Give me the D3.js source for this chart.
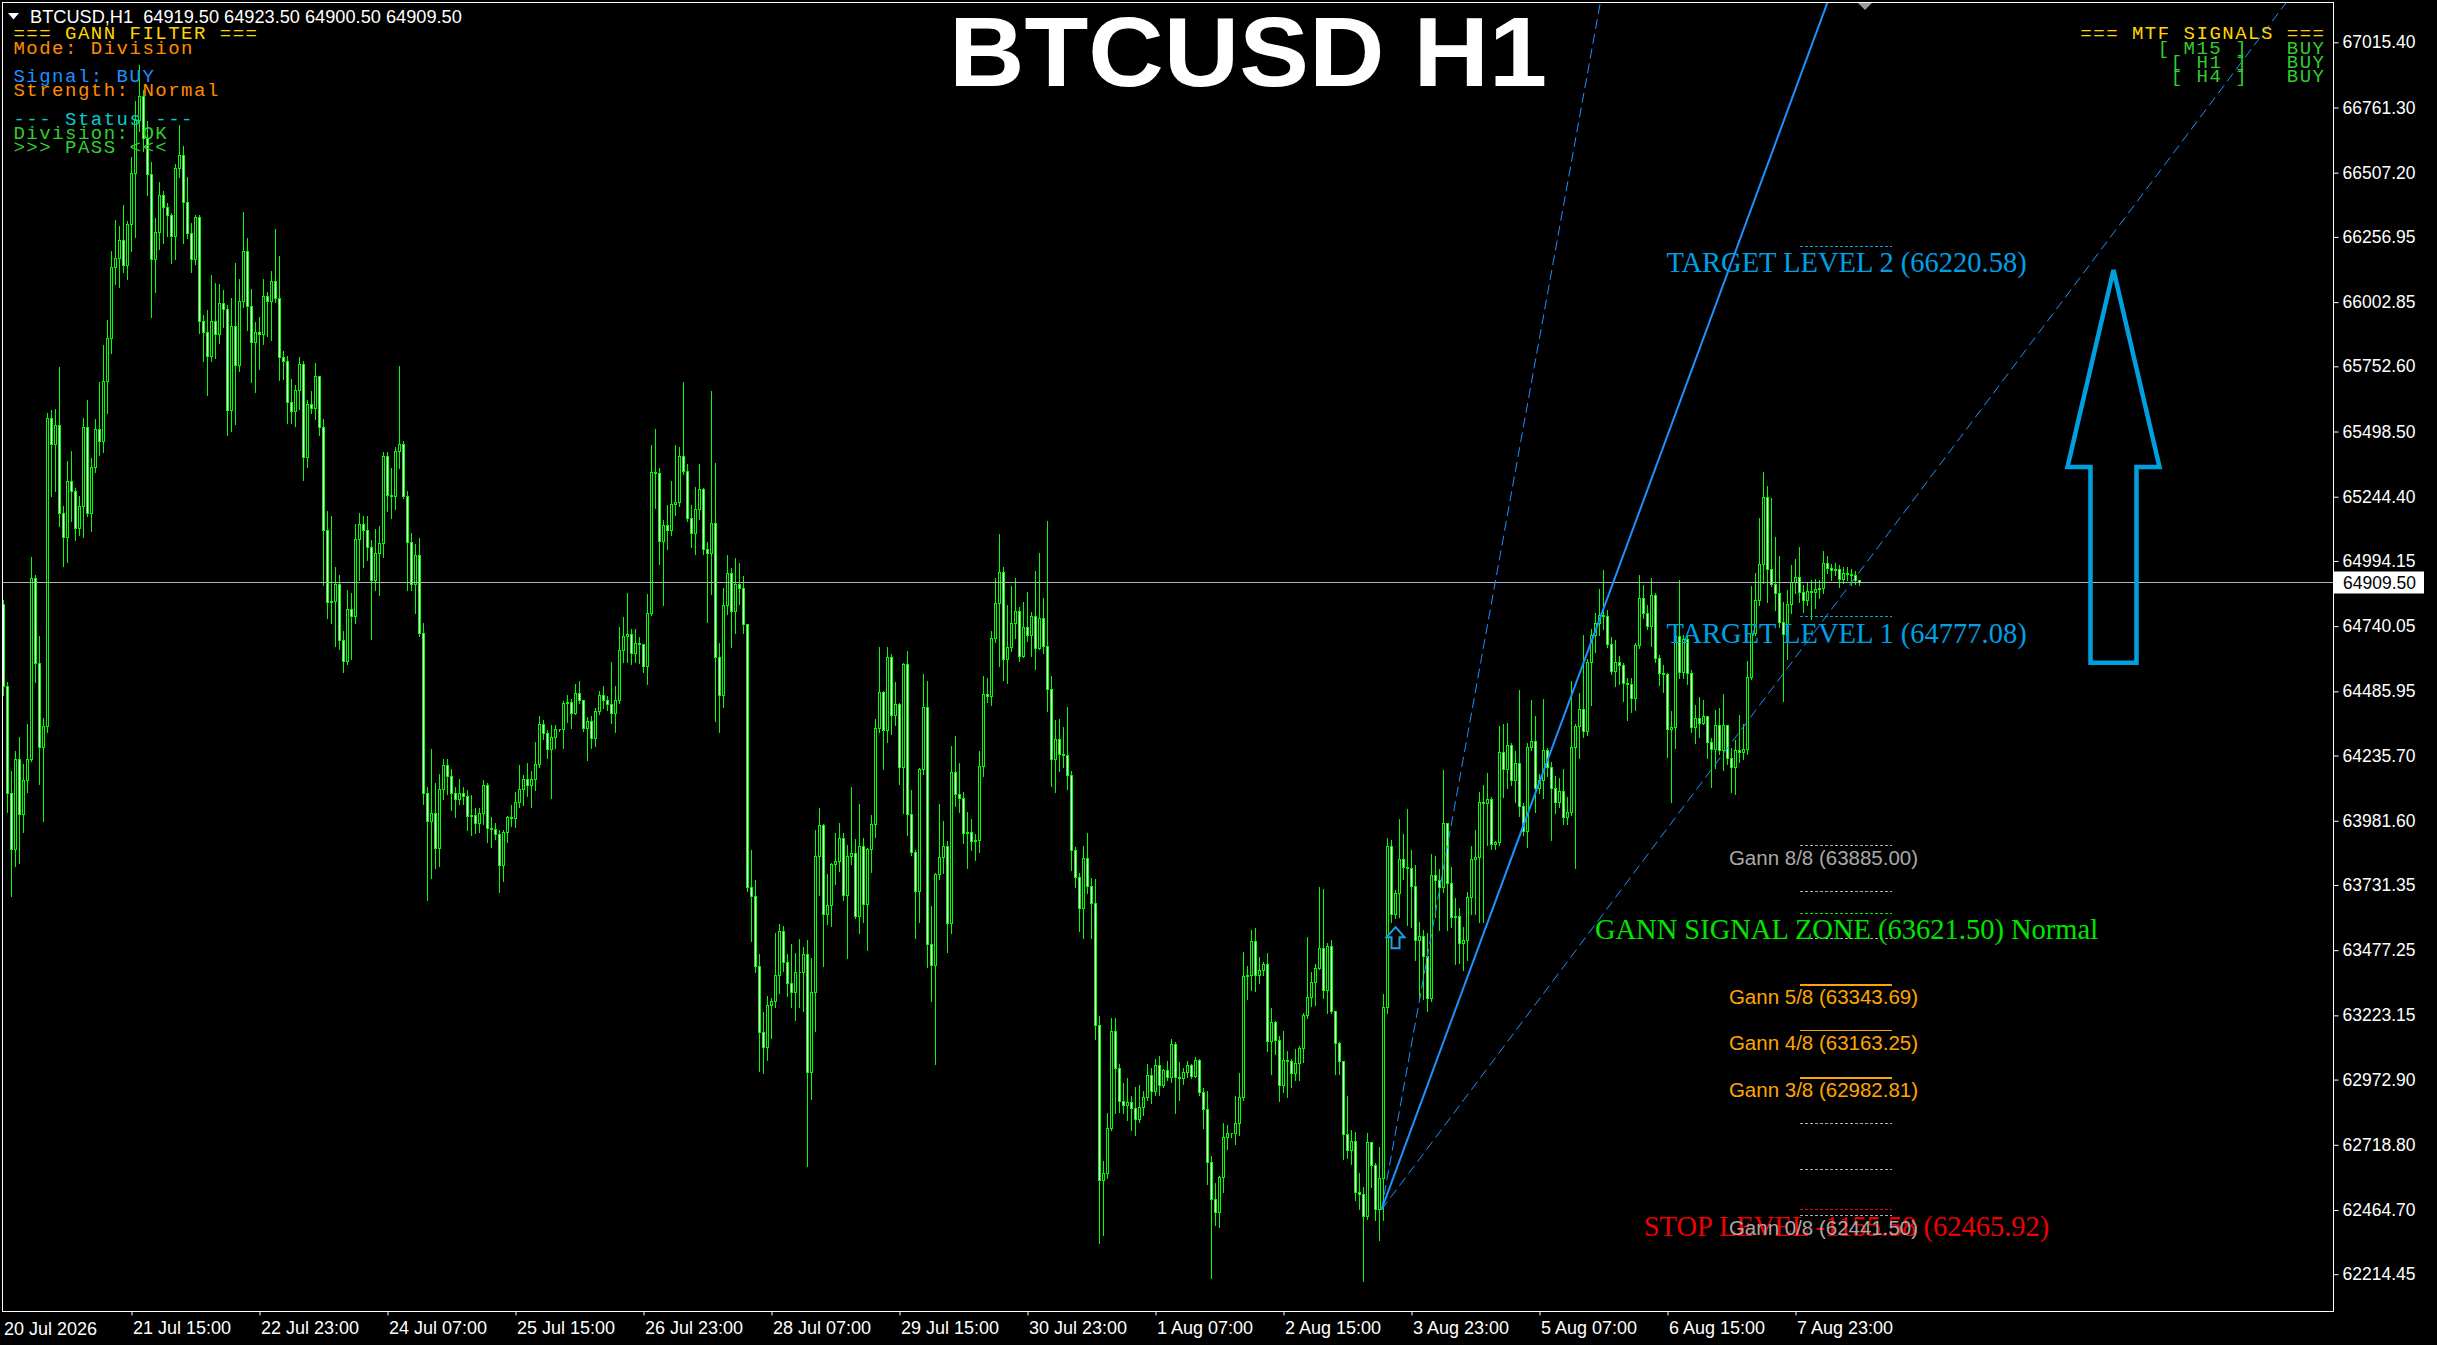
<!DOCTYPE html>
<meta charset="utf-8" />
<script src="https://d3js.org/d3.v7.min.js"></script>
<body style="margin:0;background:#000;overflow:hidden">
<svg id="chart" width="2437" height="1345" style="display:block;background:#000"></svg>
<script>
/* ── DATA ── H1 bars, first bar 20 Jul 2026 07:00, open of bar i = close of bar i-1 */
const firstBar  = "2026-07-20T07:00";
const firstOpen = 64826;
const closes = [
 64504,64087,63868,64220,64007,64140,64220,64926,64594,64266,
 64349,65548,65449,65522,65180,65087,65304,65264,65121,65206,
 65514,65180,65359,65508,65459,65693,65862,66138,66174,66244,
 66144,66307,66506,66711,66806,66641,66502,66170,66274,66417,
 66373,66341,66258,66522,66576,66393,66270,66170,66333,65926,
 65886,65790,65926,65876,65999,65975,65582,65906,65757,66005,
 66200,65985,65846,65886,65876,66025,66005,66085,66015,65787,
 65773,65612,65578,65657,65761,65399,65602,65588,65713,65514,
 65111,64832,64838,64902,64683,64604,64806,64779,65077,65137,
 65111,65045,64918,65025,65061,65403,65250,65244,65419,65449,
 65244,65065,64902,65017,64713,64087,63977,64011,63872,64103,
 64196,64156,64087,64063,64087,64077,63998,64001,63972,64010,
 64120,63951,63946,63928,63807,63937,63996,63989,64054,64102,
 64142,64120,64142,64202,64355,64323,64259,64306,64337,64337,
 64438,64442,64398,64477,64449,64341,64367,64302,64407,64468,
 64449,64435,64398,64450,64647,64699,64706,64633,64671,64668,
 64584,64790,65338,65336,65068,65134,65112,65216,65221,65402,
 65343,65159,65103,65195,65273,65039,65025,65141,64616,64468,
 64821,64946,64798,64903,64885,64746,63720,63685,63415,63158,
 63098,63262,63276,63377,63551,63429,63349,63314,63389,63392,
 63459,63000,63314,63841,63963,63615,63650,63812,63824,63911,
 63690,63841,63854,63610,63881,63655,63871,63968,64341,64480,
 64334,64616,64393,64433,64189,64590,64007,63859,63707,64181,
 64424,63499,63419,63771,63840,63880,63582,64168,64083,64069,
 63930,63936,63900,63904,64194,64472,64466,64691,64830,64950,
 64612,64655,64751,64798,64620,64735,64705,64778,64651,64771,
 64659,64492,64222,64297,64238,64234,64158,63864,63761,63641,
 63836,63725,63661,63184,62578,62608,62783,63160,63015,62886,
 62870,62882,62862,62816,62866,62902,62989,62926,63029,62950,
 63009,62981,63109,62981,62977,63001,63029,62985,63049,62922,
 62856,62651,62504,62453,62592,62747,62763,62761,62802,62902,
 63373,63379,63510,63379,63399,63423,63121,63194,63125,62950,
 63049,63045,62995,63035,63095,63224,63293,63353,63407,63482,
 63319,63492,63240,63115,63045,62757,62697,62731,62532,62524,
 62439,62727,62637,62468,62588,63254,63880,63615,63699,63832,
 63800,63796,63726,63515,63530,63452,63289,63769,63748,63720,
 63969,63737,63606,63610,63505,63515,63684,63832,63838,64054,
 64050,64064,63889,63895,64248,64181,64276,64138,64206,64037,
 63938,64269,64290,64107,64138,64254,64191,64107,64054,64096,
 63995,64012,64269,64350,64417,64328,64599,64704,64751,64782,
 64776,64670,64565,64599,64586,64518,64514,64459,64666,64846,
 64789,64740,64861,64613,64556,64550,64339,64345,64698,64561,
 64687,64556,64345,64381,64360,64387,64286,64261,64354,64254,
 64354,64223,64191,64254,64248,64261,64540,64713,64839,64979,
 65241,64962,64903,64867,64755,64709,64825,64909,64930,64873,
 64839,64877,64873,64882,64888,64983,64966,64958,64962,64920,
 64945,64941,64937,64919.5,64909.5
];
const highs = [
 64842,64524,64176,64256,64310,64206,64361,65011,64942,64703,
 64385,65574,65584,65588,65751,65210,65385,65423,65280,65250,
 65554,65622,65399,65548,65693,65836,65936,66204,66323,66303,
 66383,66319,66572,66790,66930,66830,66711,66552,66333,66472,
 66437,66393,66353,66542,66695,66612,66492,66313,66343,66343,
 65956,65975,66111,66079,66075,66051,65995,66019,66158,66095,
 66357,66254,66055,65926,65946,66095,66045,66125,66288,66184,
 65816,65796,65707,65681,65792,65776,65622,65657,65767,65717,
 65548,65190,65170,64971,64942,64723,64882,64872,65141,65184,
 65170,65170,65077,65121,65131,65419,65419,65359,65439,65757,
 65463,65270,65105,65061,65085,64753,64117,64262,64131,64166,
 64226,64226,64186,64117,64146,64117,64102,64085,64033,64033,
 64142,64132,63998,63975,63946,63946,64003,64045,64097,64202,
 64160,64207,64177,64289,64390,64376,64337,64355,64358,64341,
 64450,64473,64459,64515,64529,64454,64386,64390,64424,64490,
 64508,64471,64602,64508,64738,64776,64871,64729,64729,64699,
 64642,64868,65447,65512,65360,65155,65216,65308,65447,65442,
 65695,65373,65216,65286,65374,65280,65068,65660,65376,64677,
 64891,65019,64967,65007,64990,64938,64751,63871,63754,63464,
 63238,63302,63293,63546,63580,63572,63464,63502,63467,63523,
 63493,63520,63450,63946,64033,63972,63777,63819,63937,63975,
 63937,63888,64115,63911,64050,63916,63876,64007,64381,64659,
 64490,64659,64633,64525,64442,64598,64647,64102,63871,64189,
 64555,64529,63651,63781,64049,63983,63904,64274,64313,64208,
 64095,64019,63989,63930,64254,64546,64540,64725,64930,65103,
 64973,64824,64898,64930,64818,64838,64874,64798,64957,65029,
 64850,65150,64546,64377,64381,64347,64427,64178,63880,63781,
 63884,63936,63761,63757,63224,62657,62846,63214,63214,63035,
 62961,62981,62910,62946,62955,62930,63035,63021,63055,63065,
 63015,63049,63134,63121,63045,63021,63049,63035,63061,63055,
 62942,62930,62677,62572,62598,62806,62797,62767,62910,63001,
 63472,63419,63558,63566,63452,63433,63467,63254,63204,63144,
 63164,63085,63055,63095,63105,63234,63532,63393,63427,63725,
 63717,63506,63518,63244,63121,63049,62910,62777,62771,62612,
 62558,62767,62731,62651,62711,63308,63916,63910,63712,63990,
 63931,64028,63868,63811,63589,63557,63547,63853,63847,63796,
 64180,63974,63805,63684,63642,63568,63705,63885,63948,64096,
 64121,64170,64075,63906,64354,64360,64366,64286,64254,64493,
 64054,64286,64455,64392,64164,64459,64269,64212,64159,64149,
 64185,64075,64529,64360,64480,64709,64613,64730,64793,64888,
 64962,64804,64698,64687,64624,64599,64540,64540,64677,64941,
 64903,64825,64930,64873,64628,64592,64561,64413,64719,64920,
 64709,64709,64571,64434,64466,64455,64381,64307,64417,64423,
 64476,64349,64269,64297,64396,64360,64607,64899,64951,65163,
 65342,65289,65241,65089,65015,64835,64882,64979,65004,65051,
 64903,64909,64920,64924,64920,65036,65015,64983,64987,64979,
 64972,64972,64966,64958,64923.5
];
const lows = [
 64475,64017,63689,63809,63818,63938,64097,64216,64524,64127,
 63983,64329,65250,65270,65131,64977,64991,65150,65077,65097,
 65091,65170,65111,65343,65409,65419,65574,65806,66075,66065,
 66124,66095,66204,66258,66671,66592,66423,65946,66045,66210,
 66234,66264,66158,66174,66492,66234,66254,66124,66154,65886,
 65777,65641,65777,65787,65846,65906,65488,65502,65528,65737,
 65985,65896,65693,65653,65743,65840,65872,65856,66005,65701,
 65707,65534,65534,65522,65588,65310,65363,65574,65548,65488,
 64902,64773,64753,64663,64653,64564,64594,64614,64753,64922,
 64971,65001,64693,64882,64862,65011,65190,65164,65200,65359,
 65240,64882,64882,64793,64703,64047,63673,63759,63799,63809,
 64067,64087,64027,63997,64047,64047,63946,63928,63937,63941,
 63972,63902,63881,63911,63707,63749,63902,63963,63958,64038,
 64045,64080,64038,64102,64195,64303,64229,64073,64268,64334,
 64268,64369,64346,64410,64442,64334,64219,64268,64276,64398,
 64424,64416,64363,64329,64442,64602,64602,64595,64602,64598,
 64564,64515,64786,65204,64985,64824,65042,65099,65176,65211,
 65336,65152,65051,65025,65159,65025,64758,64868,64372,64329,
 64428,64790,64659,64717,64828,64717,63711,63516,63394,63010,
 63000,63050,63137,63258,63311,63398,63302,63258,63206,63258,
 63241,62640,62900,63163,63694,63419,63580,63575,63737,63789,
 63676,63450,63815,63603,63546,63589,63481,63784,63920,64329,
 64184,64289,64323,64358,64125,64015,63928,63850,63528,63589,
 64167,63415,63280,63035,63757,63781,63472,63546,64043,64019,
 63896,63800,63870,63830,63860,64158,64447,64433,64679,64586,
 64532,64520,64645,64695,64606,64620,64685,64625,64576,64665,
 64639,64410,64119,64095,64178,64194,64109,63790,63725,63552,
 63526,63701,63526,63134,62339,62369,62592,62777,62846,62850,
 62846,62816,62777,62757,62810,62836,62896,62882,62916,62916,
 62946,62975,62966,62846,62896,62956,62985,62981,62985,62916,
 62786,62568,62200,62409,62399,62538,62703,62751,62723,62757,
 62896,63287,63323,63319,63353,63383,63085,62995,63075,62890,
 62926,62906,62946,62975,62975,63045,63214,63260,63264,63407,
 63293,63234,63234,62995,62995,62667,62671,62647,62504,62469,
 62190,62433,62558,62429,62349,62429,63234,63589,63606,63610,
 63758,63579,63568,63441,63293,63289,63241,63283,63610,63557,
 63705,63557,63568,63424,63431,63403,63441,63621,63621,63589,
 63589,63889,63874,63874,63889,64075,64113,64121,64058,64001,
 63927,63881,64261,64016,64092,64071,64159,63910,64012,64037,
 63969,63969,64007,63800,64227,64311,64318,64434,64641,64709,
 64730,64662,64556,64508,64518,64451,64375,64409,64417,64656,
 64772,64730,64666,64603,64514,64487,64233,64058,64269,64540,
 64540,64518,64328,64286,64311,64360,64227,64117,64191,64244,
 64180,64206,64096,64086,64212,64223,64244,64535,64708,64825,
 64909,64835,64899,64804,64740,64451,64613,64793,64873,64835,
 64797,64825,64768,64814,64852,64873,64951,64920,64941,64894,
 64909,64920,64903,64905,64900.5
];

const priceTicks = [67015.40,66761.30,66507.20,66256.95,66002.85,65752.60,65498.50,65244.40,64994.15,
  64740.05,64485.95,64235.70,63981.60,63731.35,63477.25,63223.15,62972.90,62718.80,62464.70,62214.45];
const timeTicks = ["2026-07-21T15:00","2026-07-22T23:00","2026-07-24T07:00","2026-07-25T15:00",
  "2026-07-26T23:00","2026-07-28T07:00","2026-07-29T15:00","2026-07-30T23:00","2026-08-01T07:00",
  "2026-08-02T15:00","2026-08-03T23:00","2026-08-05T07:00","2026-08-06T15:00","2026-08-07T23:00"];
const lastPrice = 64909.50;

const gannNames  = ["8/8","7/8","6/8","5/8","4/8","3/8","2/8","1/8","0/8"];
const gannPrices = [63885.00,63704.56,63524.13,63343.69,63163.25,62982.81,62802.38,62621.94,62441.50];
const signalZone = 63621.50;
const stopLevel  = 62465.92, stopDist = -1155.58;
const targets    = [64777.08, 66220.58];
const fanOrigin  = {bar: 344.5, price: 62465.92};
const fanSlopes  = [86, 42.2, 20.8];            // price per bar

const filterLines = ["=== GANN FILTER ===","Mode: Division","","Signal: BUY","Strength: Normal","",
  "--- Status ---","Division: OK",">>> PASS <<<"];
const mtfLines = ["=== MTF SIGNALS ===","[ M15 ]   BUY","[ H1 ]   BUY","[ H4 ]   BUY"];

/* ── LAYOUT ── */
const plot = {l:2, r:2334, t:2, b:1312};
const lvlFrom = 449, lvlTo = 472;               // bar span of level stubs
const svg = d3.select("#chart");
const t0 = d3.utcParse("%Y-%m-%dT%H:%M")(firstBar);
const barTime = i => new Date(+t0 + i*3600e3);
const x = d3.scaleUtc().domain([t0, barTime(464)]).range([3.5, 3.5 + 4*464]);
const y = d3.scaleLinear().domain([62214.45, 67015.40]).range([1274.2, 42.3]);
const snap = v => Math.round(v - 0.5) + 0.5;
const bx = i => snap(x(barTime(i)));
const by = p => snap(y(p));

svg.append("defs").append("clipPath").attr("id","clip")
  .append("rect").attr("x",plot.l).attr("y",plot.t).attr("width",plot.r-plot.l).attr("height",plot.b-plot.t);

/* candles */
const bars = closes.map((c,i)=>({i, o: i ? closes[i-1] : firstOpen, h: highs[i], l: lows[i], c}));
const cg = svg.append("g").attr("clip-path","url(#clip)").attr("shape-rendering","crispEdges");
cg.selectAll("line.wick").data(bars).join("line").attr("class","wick")
  .attr("x1",d=>bx(d.i)).attr("x2",d=>bx(d.i))
  .attr("y1",d=>by(Math.max(d.h,d.o,d.c))).attr("y2",d=>by(Math.min(d.l,d.o,d.c)) + 1)
  .attr("stroke","#00FF00").attr("stroke-width",1);
cg.selectAll("path.body").data(bars).join("path").attr("class","body")
  .attr("d",d=>{ const cx=bx(d.i), a=by(Math.max(d.o,d.c)), b=by(Math.min(d.o,d.c));
                 return `M${cx-1},${a}H${cx+1}V${b}H${cx-1}Z`; })
  .attr("fill",d=>d.c>=d.o ? "#000" : "#fff")
  .attr("stroke","#00FF00").attr("stroke-width",1);

/* bid line */
svg.append("line").attr("x1",plot.l).attr("x2",plot.r).attr("y1",by(lastPrice)).attr("y2",by(lastPrice))
  .attr("stroke","#B4B4B4").attr("stroke-width",1).attr("shape-rendering","crispEdges");

/* gann fan */
const fg = svg.append("g").attr("clip-path","url(#clip)");
fanSlopes.forEach((s,k)=>{
  const b1 = fanOrigin.bar + 400;
  fg.append("line")
    .attr("x1",x(barTime(fanOrigin.bar))).attr("y1",y(fanOrigin.price))
    .attr("x2",x(barTime(b1))).attr("y2",y(fanOrigin.price + s*400))
    .attr("stroke","#1E90FF").attr("stroke-width",k===1?2:1)
    .attr("stroke-dasharray",k===1?null:"10,5");
});

/* level stubs + labels */
const lx0 = bx(lvlFrom), lx1 = bx(lvlTo), lxc = (lx0+lx1)/2;
const lg = svg.append("g");
function stub(p, color, dash, w){
  lg.append("line").attr("x1",lx0).attr("x2",lx1).attr("y1",by(p)).attr("y2",by(p))
    .attr("stroke",color).attr("stroke-width",w||1).attr("stroke-dasharray",dash)
    .attr("shape-rendering","crispEdges");
}
const serif = (txt, p, color) => lg.append("text").attr("x",lxc+1).attr("y",y(p)+26)
  .attr("text-anchor","middle").attr("fill",color)
  .style("font","28.5px 'Liberation Serif', serif").style("white-space","pre").text(txt);

const gannStyle = {"8/8":"gray","7/8":"gray","6/8":"gray","5/8":"o2","4/8":"o1","3/8":"o2","2/8":"gray","1/8":"gray","0/8":"gray"};
const gannLabelled = new Set(["8/8","5/8","4/8","3/8","0/8"]);

targets.forEach((p,k)=>{ stub(p,"#00A0E4","3,2"); });
gannNames.forEach((n,k)=>{
  const st = gannStyle[n];
  if (st==="gray") stub(gannPrices[k],"#A9A9A9","3,2");
  else stub(gannPrices[k],"#FFA500",null, st==="o2"?2:1);
});
stub(signalZone,"#00E600","3,2");
stub(stopLevel,"#F00000","3,2");

targets.forEach((p,k)=> serif(`TARGET LEVEL ${k+1} (${p.toFixed(2)})`, p, "#00A0E4"));
serif(`GANN SIGNAL ZONE (${signalZone.toFixed(2)}) Normal`, signalZone, "#00E600");
serif(`STOP LEVEL ${stopDist.toFixed(2)} (${stopLevel.toFixed(2)})`, stopLevel, "#F00000");
gannNames.forEach((n,k)=>{
  if (!gannLabelled.has(n)) return;
  const col = gannStyle[n]==="gray" ? "#A9A9A9" : "#FFA500";
  lg.append("text").attr("x",lxc-22).attr("y",y(gannPrices[k])+19.5)
    .attr("text-anchor","middle").attr("fill",col)
    .style("font","20.5px 'Liberation Sans', Arial, sans-serif")
    .text(`Gann ${n} (${gannPrices[k].toFixed(2)})`);
});

/* small signal arrow at 6/8 */
{
  const cx = x(barTime(348)), cy = y(gannPrices[2]);
  svg.append("path")
    .attr("d",`M${cx},${cy-11}L${cx+9},${cy-1}H${cx+4}V${cy+10}H${cx-4}V${cy-1}H${cx-9}Z`)
    .attr("fill","none").attr("stroke","#1EA0E8").attr("stroke-width",2);
}

/* big arrow */
{
  const cx = x(barTime(527.5)), tip = y(66128), head = y(65360), bot = y(64597);
  svg.append("path")
    .attr("d",`M${cx},${tip}L${cx+46},${head}H${cx+23}V${bot}H${cx-23}V${head}H${cx-46}Z`)
    .attr("fill","none").attr("stroke","#00A0E0").attr("stroke-width",4.5).attr("stroke-linejoin","miter");
}

/* frame */
svg.append("rect").attr("x",plot.l+0.5).attr("y",plot.t+0.5)
  .attr("width",plot.r-plot.l-1).attr("height",plot.b-plot.t-1)
  .attr("fill","none").attr("stroke","#fff").attr("shape-rendering","crispEdges");

/* axes */
svg.append("g").attr("transform",`translate(${plot.r-0.5},0)`)
  .call(d3.axisRight(y).tickValues(priceTicks).tickSize(5).tickPadding(4).tickFormat(d3.format(".2f")))
  .call(g=>g.select(".domain").remove())
  .call(g=>g.selectAll("line").attr("stroke","#fff"))
  .call(g=>g.selectAll("text").attr("fill","#fff").style("font","17.5px 'Liberation Sans', Arial, sans-serif"));

const tf = d3.utcFormat("%-d %b %H:%M");
svg.append("g").attr("transform",`translate(0,${plot.b-0.5})`)
  .call(d3.axisBottom(x).tickValues(timeTicks.map(d=>d3.utcParse("%Y-%m-%dT%H:%M")(d)))
        .tickSize(4).tickPadding(6).tickFormat(tf))
  .call(g=>g.select(".domain").remove())
  .call(g=>g.selectAll("line").attr("stroke","#fff"))
  .call(g=>g.selectAll("text").attr("fill","#fff").attr("text-anchor","start").attr("dx","1")
            .style("font","18px 'Liberation Sans', Arial, sans-serif"));
svg.append("text").attr("x",4).attr("y",1335).attr("fill","#fff")
  .style("font","18px 'Liberation Sans', Arial, sans-serif").text(d3.utcFormat("%-d %b %Y")(t0));

/* bid label */
svg.append("rect").attr("x",plot.r).attr("y",by(lastPrice)-11).attr("width",90).attr("height",22).attr("fill","#fff");
svg.append("text").attr("x",plot.r+9).attr("y",y(lastPrice)).attr("dy","0.35em").attr("fill","#000")
  .style("font","17.5px 'Liberation Sans', Arial, sans-serif").text(lastPrice.toFixed(2));

/* chart-shift marker */
svg.append("path").attr("d","M1858,3L1872,3L1865,10Z").attr("fill","#9A9A9A");

/* header */
svg.append("path").attr("d","M8,13L19,13L13.5,19.5Z").attr("fill","#fff");
svg.append("text").attr("x",30).attr("y",23.3).attr("fill","#fff").style("white-space","pre")
  .style("font","18.2px 'Liberation Sans', Arial, sans-serif")
  .text(`BTCUSD,H1  ${[64919.50,64923.50,64900.50,lastPrice].map(d=>d.toFixed(2)).join(" ")}`);

svg.append("text").attr("x",1248).attr("y",85.5).attr("text-anchor","middle").attr("fill","#fff")
  .attr("textLength",598).attr("lengthAdjust","spacingAndGlyphs")
  .style("font","bold 98px 'Liberation Sans', Arial, sans-serif").text("BTCUSD H1");

/* info panels */
const mono = "19px 'Liberation Mono', 'Courier New', monospace";
const filterCols = ["#FFD700","#FF8C00",null,"#1E90FF","#FF8C00",null,"#00CED1","#32CD32","#32CD32"];
svg.append("g").selectAll("text").data(filterLines).join("text")
  .attr("x",13.4).attr("y",(d,i)=>39.3 + 14.2*i).attr("fill",(d,i)=>filterCols[i])
  .style("font",mono).style("letter-spacing","1.5px").style("white-space","pre").text(d=>d);
svg.append("g").selectAll("text").data(mtfLines).join("text")
  .attr("x",2325.5).attr("y",(d,i)=>39.3 + 14.2*i).attr("text-anchor","end")
  .attr("fill",(d,i)=> i ? "#32CD32" : "#FFD700")
  .style("font",mono).style("letter-spacing","1.5px").style("white-space","pre").text(d=>d);
</script>
</body>
